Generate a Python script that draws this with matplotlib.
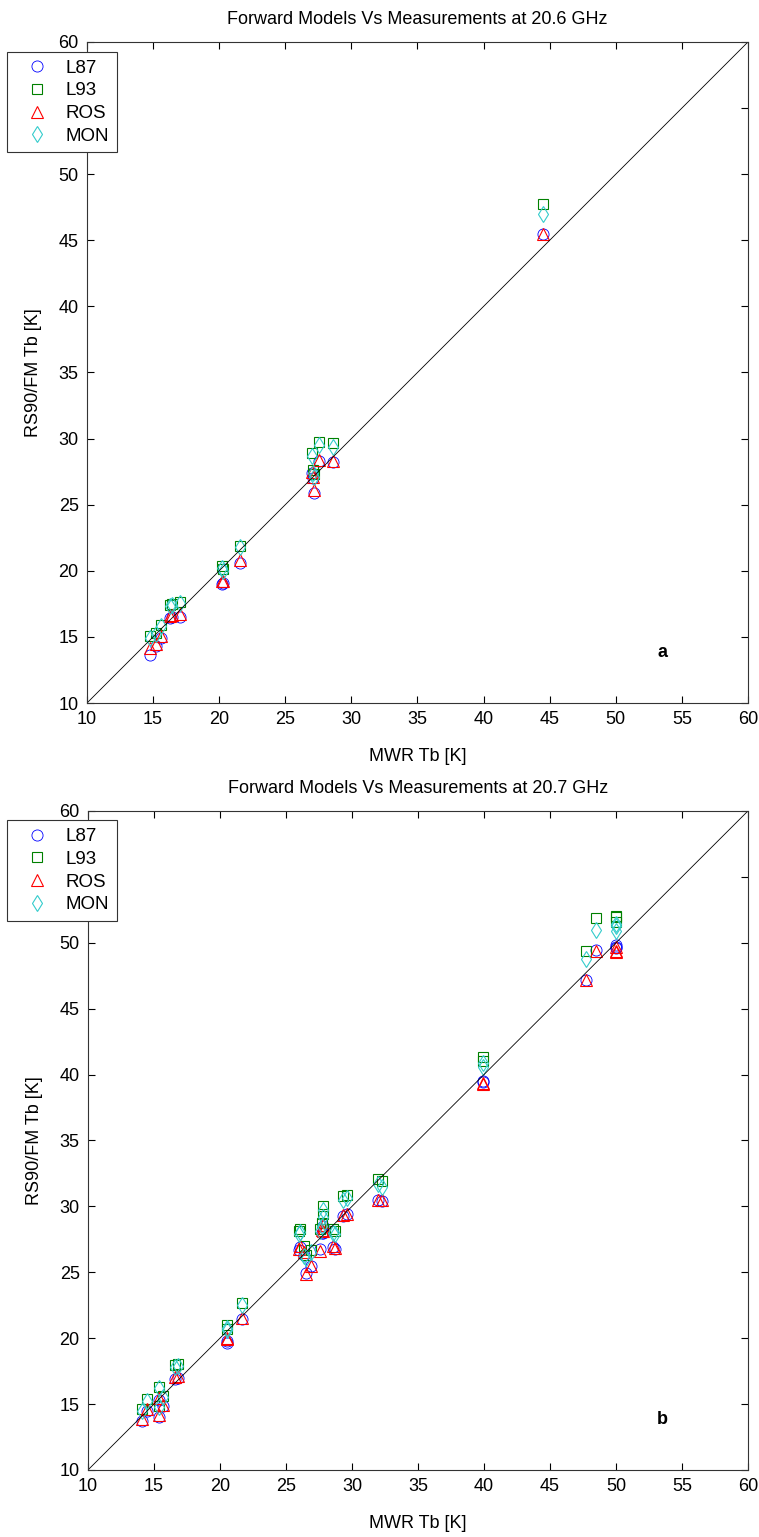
import matplotlib.pyplot as plt

plt.rcParams['font.family'] = ['Liberation Sans', 'DejaVu Sans']
plt.rcParams['font.size'] = 13

# panel a: 20.6 GHz
mwr_a = [14.8, 15.2, 15.6, 16.3, 16.4, 17.0, 20.25, 20.3, 21.6, 27.2, 27.1, 27.0, 27.55, 28.6, 44.5]
l87_a = [13.65, 14.3, 14.9, 16.4, 16.5, 16.5, 19.0, 19.1, 20.6, 25.9, 27.0, 27.4, 28.3, 28.2, 45.5]
l93_a = [15.05, 15.3, 15.9, 17.45, 17.5, 17.65, 20.35, 20.1, 21.9, 27.3, 27.6, 28.9, 29.75, 29.7, 47.75]
ros_a = [14.15, 14.45, 15.1, 16.6, 16.65, 16.7, 19.2, 19.25, 20.8, 26.1, 27.1, 27.5, 28.4, 28.3, 45.5]
mon_a = [14.95, 15.2, 15.8, 17.35, 17.4, 17.55, 20.2, 20.0, 21.8, 27.1, 27.4, 28.7, 29.5, 29.4, 46.95]

# panel b: 20.7 GHz
mwr_b = [14.1, 14.5, 15.4, 15.4, 15.7, 16.6, 16.8, 20.5, 20.5, 21.7,
         26.0, 26.1, 26.4, 26.5, 26.9, 27.6, 27.7, 27.8, 27.8, 28.6, 28.7,
         29.3, 29.6, 32.0, 32.3, 39.9, 39.9, 47.7, 48.5, 50.0, 50.0, 50.0]
l87_b = [13.7, 14.45, 14.05, 15.3, 14.85, 16.9, 17.0, 19.6, 19.75, 21.45,
         26.7, 26.9, 26.3, 24.95, 25.45, 26.75, 28.0, 28.5, 28.0, 26.9, 26.75,
         29.3, 29.4, 30.5, 30.4, 39.4, 39.5, 47.2, 49.45, 49.85, 49.6, 49.7]
l93_b = [14.6, 15.35, 14.85, 16.3, 15.6, 17.95, 18.05, 21.0, 20.7, 22.65,
         28.1, 28.25, 27.0, 26.3, 26.7, 28.3, 28.7, 30.0, 29.4, 28.25, 28.1,
         30.8, 30.85, 32.05, 31.95, 41.35, 41.0, 49.4, 51.85, 52.05, 51.6, 51.95]
ros_b = [13.85, 14.6, 14.2, 15.45, 14.95, 17.05, 17.1, 19.95, 20.0, 21.55,
         26.8, 27.0, 26.5, 24.9, 25.5, 26.65, 28.2, 28.6, 28.1, 27.0, 26.85,
         29.35, 29.45, 30.5, 30.45, 39.3, 39.35, 47.2, 49.4, 49.65, 49.3, 49.4]
mon_b = [14.5, 15.2, 14.75, 16.2, 15.5, 17.8, 17.9, 20.8, 20.6, 22.55,
         27.9, 28.05, 26.2, 26.1, 26.5, 28.1, 28.5, 29.7, 29.2, 28.0, 27.9,
         30.5, 30.6, 31.7, 31.5, 40.6, 40.9, 48.8, 50.95, 51.3, 50.9, 51.4]

ticks = [10, 15, 20, 25, 30, 35, 40, 45, 50, 55, 60]
ms = 8

fig = plt.figure(figsize=(7.59, 15.37), dpi=100)
ax1 = fig.add_axes([0.1146, 0.5426, 0.8709, 0.4301])
ax2 = fig.add_axes([0.1159, 0.0436, 0.8696, 0.4288])

panels = [
    (ax1, mwr_a, l87_a, l93_a, ros_a, mon_a, '20.6', 'a', 0.9662),
    (ax2, mwr_b, l87_b, l93_b, ros_b, mon_b, '20.7', 'b', 0.4662),
]

for ax, x, l87, l93, ros, mon, freq, tag, leg_top in panels:
    ax.plot(x, l87, linestyle='', marker='o', markersize=ms, mfc='none', mec='blue', mew=0.6, label='L87')
    ax.plot(x, l93, linestyle='', marker='s', markersize=ms - 0.5, mfc='none', mec='green', mew=0.8, label='L93')
    ax.plot(x, ros, linestyle='', marker='^', markersize=ms, mfc='none', mec='red', mew=0.8, label='ROS')
    ax.plot(x, mon, linestyle='', marker='d', markersize=ms, mfc='none', mec='#33cccc', mew=0.8, label='MON')
    ax.plot([10, 60], [10, 60], color='black', linewidth=0.6)

    ax.set_xlim(10, 60)
    ax.set_ylim(10, 60)
    ax.set_xticks(ticks)
    ax.set_yticks(ticks)
    ax.tick_params(direction='in', length=5, width=0.8, top=True, right=True, labelsize=13, pad=6)
    for s in ax.spines.values():
        s.set_linewidth(0.8)
        s.set_color('#333333')

    ax.set_title('Forward Models Vs Measurements at %s GHz' % freq, fontsize=13, pad=13)
    ax.set_xlabel('MWR Tb [K]', fontsize=13)
    ax.set_ylabel('RS90/FM Tb [K]', fontsize=13)
    ax.xaxis.set_label_coords(0.5, -0.068)
    ax.yaxis.set_label_coords(-0.068, 0.5)
    ax.text(53.5, 13.8, tag, fontsize=13, fontweight='bold', ha='center', va='center')

    leg = ax.legend(loc='upper left', bbox_to_anchor=(0.009, leg_top), bbox_transform=fig.transFigure,
                    borderaxespad=0, fancybox=False, framealpha=1, edgecolor='#333333', borderpad=0.4,
                    handletextpad=0.35, labelspacing=0.3, fontsize=13.5, handlelength=2.4)
    leg.get_frame().set_linewidth(0.8)

plt.savefig('out.png', dpi=100)
